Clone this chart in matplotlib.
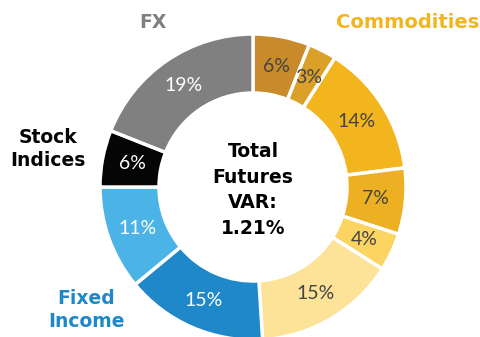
import matplotlib.pyplot as plt

# Futures VAR breakdown, clockwise from 12 o'clock
shares = [6, 3, 14, 7, 4, 15, 15, 11, 6, 19]
slice_colors = ["#C98A2B", "#DBA02A", "#F2B51E", "#EDB022", "#FCD462",
                "#FDE398", "#1E88C9", "#4BB3E6", "#050505", "#808080"]
pct_colors = ["#444444"] * 6 + ["white"] * 4

groups = ["Commodities", "FX", "Stock\nIndices", "Fixed\nIncome"]
group_colors = ["#F2B51E", "#808080", "#050505", "#1E88C9"]
group_pos = [(408, 314), (153, 314), (48, 188), (86, 27)]
group_size = [14, 13.5, 13.5, 13.5]

center_text = "Total\nFutures\nVAR:\n1.21%"

fig = plt.figure(figsize=(4.8, 3.37), dpi=100)
ax = fig.add_axes([0, 0, 1, 1])

wedges, _, autotexts = ax.pie(
    shares, colors=slice_colors, radius=153, center=(253, 150),
    startangle=90, counterclock=False,
    autopct=lambda p: f"{p:.0f}%", pctdistance=0.805,
    wedgeprops=dict(width=59, edgecolor="white", linewidth=2.5),
    textprops=dict(fontsize=14, family=["Lato", "DejaVu Sans"]))
for t, c in zip(autotexts, pct_colors):
    t.set_color(c)

for name, c, (x, y), fs in zip(groups, group_colors, group_pos, group_size):
    ax.text(x, y, name, color=c, fontsize=fs, fontweight="bold",
            family="DejaVu Sans", ha="center", va="center", linespacing=1.3)

ax.text(253, 147, center_text, fontsize=13.5, fontweight="bold",
        family="DejaVu Sans", ha="center", va="center", linespacing=1.45)

ax.set_xlim(0, 480)
ax.set_ylim(0, 337)
ax.set_aspect("equal")
ax.axis("off")

fig.savefig("out.png", dpi=100)
